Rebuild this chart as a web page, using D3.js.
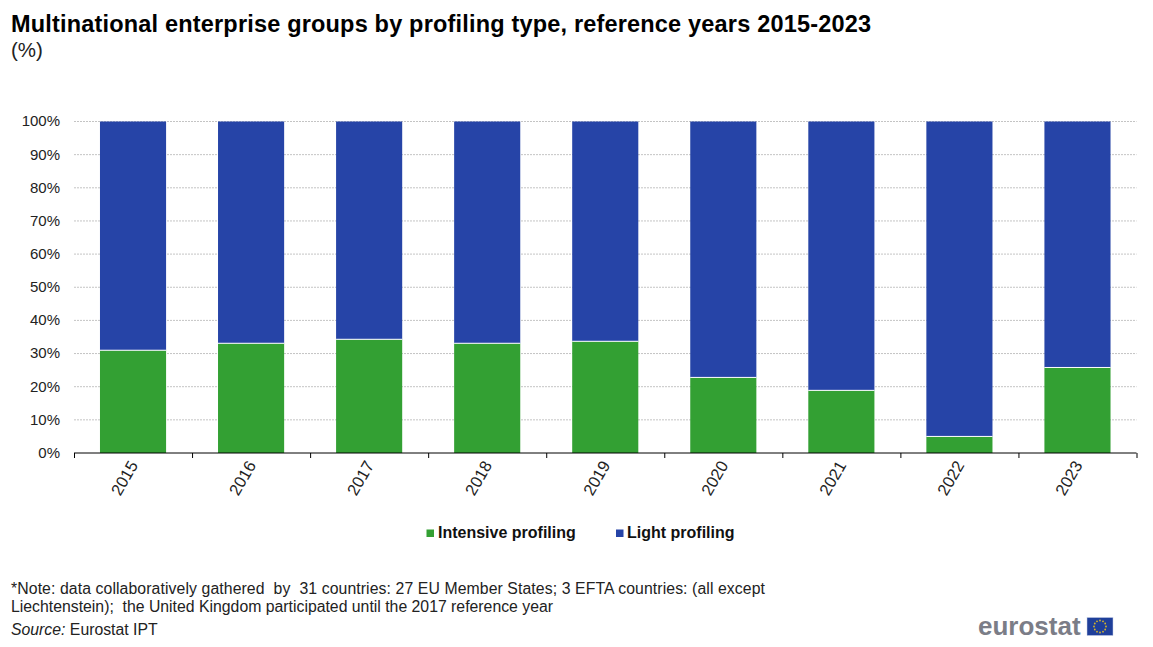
<!DOCTYPE html>
<html>
<head>
<meta charset="utf-8">
<script src="https://d3js.org/d3.v7.min.js"></script>
<style>
  html, body { margin: 0; padding: 0; background: #fff; }
  svg { display: block; font-family: "Liberation Sans", Arial, sans-serif; }
</style>
</head>
<body>
<svg id="chart" width="1153" height="647"></svg>
<script>
const years = ["2015", "2016", "2017", "2018", "2019", "2020", "2021", "2022", "2023"];
const intensive = [31, 33.1, 34.3, 33.1, 33.7, 22.8, 18.9, 5, 25.8];
const light = [69, 66.9, 65.7, 66.9, 66.3, 77.2, 81.1, 95, 74.2];
const yTicks = [0, 10, 20, 30, 40, 50, 60, 70, 80, 90, 100];
const seriesNames = ["Intensive profiling", "Light profiling"];
const seriesColors = ["#33A033", "#2644A7"];

const width = 1153;
const height = 647;
const margin = { top: 121.5, right: 16.5, bottom: 194, left: 74 };

const svg = d3.select("#chart");

const rows = years.map((y, i) => ({ year: y, intensive: intensive[i], light: light[i] }));

const x = d3
  .scaleBand()
  .domain(years)
  .range([margin.left, width - margin.right])
  .paddingInner(0.44)
  .paddingOuter(0.22);

const y = d3
  .scaleLinear()
  .domain([0, 100])
  .range([height - margin.bottom, margin.top]);

const color = d3.scaleOrdinal().domain(["intensive", "light"]).range(seriesColors);

// title
svg
  .append("text")
  .attr("x", 11)
  .attr("y", 32)
  .attr("font-size", "23.5px")
  .attr("font-weight", "bold")
  .attr("fill", "#000")
  .attr("textLength", 860)
  .attr("lengthAdjust", "spacing")
  .text("Multinational enterprise groups by profiling type, reference years 2015-2023");

svg
  .append("text")
  .attr("x", 11)
  .attr("y", 57)
  .attr("font-size", "20.5px")
  .attr("fill", "#222")
  .text("(%)");

// grid lines
svg
  .selectAll(".grid-line")
  .data(yTicks.filter((d) => d > 0))
  .enter()
  .append("line")
  .attr("class", "grid-line")
  .attr("x1", margin.left)
  .attr("x2", width - margin.right)
  .attr("y1", (d) => y(d))
  .attr("y2", (d) => y(d))
  .attr("stroke", "#c4c4c4")
  .attr("stroke-width", 1)
  .attr("stroke-dasharray", "2,1");

// stacked bars
const stack = d3.stack().keys(["intensive", "light"])(rows);

svg
  .selectAll(".series")
  .data(stack)
  .enter()
  .append("g")
  .attr("class", "series")
  .attr("fill", (d) => color(d.key))
  .selectAll("rect")
  .data((d) => d)
  .enter()
  .append("rect")
  .attr("x", (d) => x(d.data.year))
  .attr("y", (d) => y(d[1]))
  .attr("width", x.bandwidth())
  .attr("height", (d) => y(d[0]) - y(d[1]));

// thin white line between the two segments
svg
  .selectAll(".seam")
  .data(rows)
  .enter()
  .append("line")
  .attr("class", "seam")
  .attr("x1", (d) => x(d.year))
  .attr("x2", (d) => x(d.year) + x.bandwidth())
  .attr("y1", (d) => y(d.intensive))
  .attr("y2", (d) => y(d.intensive))
  .attr("stroke", "#fff")
  .attr("stroke-width", 1);

// y axis labels
svg
  .selectAll(".y-label")
  .data(yTicks)
  .enter()
  .append("text")
  .attr("class", "y-label")
  .attr("x", 60)
  .attr("y", (d) => y(d) - 0.5)
  .attr("dy", "0.36em")
  .attr("text-anchor", "end")
  .attr("font-size", "15px")
  .attr("fill", "#222")
  .text((d) => `${d}%`);

// x axis with ticks on the band edges
const baseline = y(0);
const step = x.step();
const edges = d3.range(0, years.length + 1).map((i) => margin.left + 0.5 + i * step);

svg
  .append("line")
  .attr("x1", margin.left)
  .attr("x2", width - margin.right)
  .attr("y1", baseline)
  .attr("y2", baseline)
  .attr("stroke", "#000")
  .attr("stroke-width", 1);

svg
  .selectAll(".x-tick")
  .data(edges)
  .enter()
  .append("line")
  .attr("class", "x-tick")
  .attr("x1", (d) => d)
  .attr("x2", (d) => d)
  .attr("y1", baseline)
  .attr("y2", baseline + 5)
  .attr("stroke", "#000")
  .attr("stroke-width", 1);

svg
  .selectAll(".x-label")
  .data(years)
  .enter()
  .append("text")
  .attr("class", "x-label")
  .attr("transform", (d) => `translate(${x(d) + x.bandwidth() / 2 + 5.5},${baseline + 12}) rotate(-60)`)
  .attr("text-anchor", "end")
  .attr("font-size", "16.5px")
  .attr("fill", "#222")
  .text((d) => d);

// legend
const legendX = [426.5, 616];
const legend = svg
  .selectAll(".legend")
  .data(seriesNames)
  .enter()
  .append("g")
  .attr("class", "legend")
  .attr("transform", (d, i) => `translate(${legendX[i]},529.5)`);

legend
  .append("rect")
  .attr("width", 7.5)
  .attr("height", 7.5)
  .attr("fill", (d, i) => seriesColors[i]);

legend
  .append("text")
  .attr("x", (d, i) => (i === 0 ? 11.5 : 11))
  .attr("y", 8.5)
  .attr("font-size", "16px")
  .attr("font-weight", "bold")
  .attr("fill", "#111")
  .text((d) => d);

// notes
const noteLines = [
  "*Note: data collaboratively gathered  by  31 countries: 27 EU Member States; 3 EFTA countries: (all except",
  "Liechtenstein);  the United Kingdom participated until the 2017 reference year",
];
const noteLengths = [754, 542];

svg
  .selectAll(".note")
  .data(noteLines)
  .enter()
  .append("text")
  .attr("class", "note")
  .attr("x", 11)
  .attr("y", (d, i) => 594 + i * 17.5)
  .attr("font-size", "15.8px")
  .attr("fill", "#222")
  .attr("textLength", (d, i) => noteLengths[i])
  .attr("lengthAdjust", "spacing")
  .style("white-space", "pre")
  .text((d) => d);

const source = svg
  .append("text")
  .attr("x", 11)
  .attr("y", 635)
  .attr("font-size", "15.8px")
  .attr("fill", "#222");
source.append("tspan").attr("font-style", "italic").text("Source:");
source.append("tspan").text(" Eurostat IPT");

// eurostat logo
svg
  .append("text")
  .attr("x", 978)
  .attr("y", 635)
  .attr("font-size", "26px")
  .attr("font-weight", "bold")
  .attr("fill", "#7b7d87")
  .text("eurostat");

svg
  .append("rect")
  .attr("x", 1087)
  .attr("y", 617.5)
  .attr("width", 26)
  .attr("height", 18)
  .attr("fill", "#1f3f9a")
  .attr("stroke", "#c9d2e8")
  .attr("stroke-width", 0.5);

svg
  .selectAll(".star")
  .data(d3.range(12))
  .enter()
  .append("circle")
  .attr("class", "star")
  .attr("cx", (d) => 1100 + 6 * Math.sin((d * Math.PI) / 6))
  .attr("cy", (d) => 626.5 - 6 * Math.cos((d * Math.PI) / 6))
  .attr("r", 0.9)
  .attr("fill", "#d6b52a");
</script>
</body>
</html>
